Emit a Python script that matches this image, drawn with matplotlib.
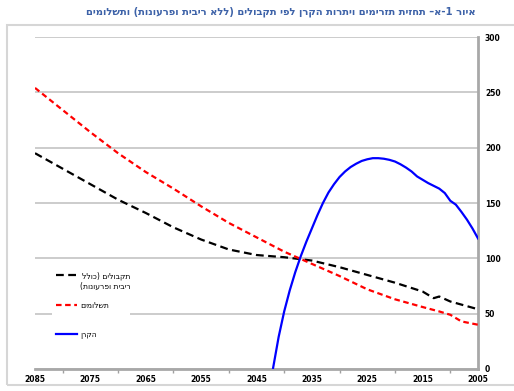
import matplotlib
matplotlib.use("Agg")
import matplotlib.pyplot as plt
from matplotlib.patches import Rectangle
from matplotlib.lines import Line2D


def rtl(s):
    # matplotlib has no bidi support: flip to visual order and mirror brackets
    return s[::-1].translate(str.maketrans("()", ")("))


title = "איור 1-א– תחזית תזרימים ויתרות הקרן לפי תקבולים (ללא ריבית ופרעונות) ותשלומים"
label_receipts = rtl("תקבולים (כולל") + "\n" + rtl("ריבית ופרעונות)")
label_payments = rtl("תשלומים")
label_fund = rtl("הקרן")

# receipts (black dashed)
receipt_years = [2085, 2080, 2075, 2070, 2065, 2060, 2055, 2050, 2045, 2040,
                 2035, 2030, 2025, 2020, 2015, 2013, 2012, 2010, 2005]
receipt_vals = [195, 181, 167, 153, 141, 128, 117, 108, 103, 101,
                98, 92, 85, 78, 70, 64, 65.5, 61, 54]

# payments (red dashed)
payment_years = [2085, 2080, 2075, 2070, 2065, 2060, 2055, 2050, 2045, 2040,
                 2035, 2030, 2025, 2020, 2015, 2012, 2010, 2008, 2005]
payment_vals = [254, 234, 214, 195, 178, 163, 147, 132, 119, 106,
                95, 84, 72, 63, 56, 52, 49, 43, 40]

# fund balance (blue)
fund_years = list(range(2042, 2004, -1))
fund_vals = [1, 29, 52, 71, 87.5, 102, 115, 127, 139, 150, 159.5, 167, 173.5, 178.5,
             182.5, 185.5, 188, 189.5, 190.5, 190.5, 190, 189, 187.5, 185, 182,
             178.5, 174, 171, 168, 165.5, 163, 159, 152, 148.5, 142, 135, 127, 118]

x_ticks = [2085, 2075, 2065, 2055, 2045, 2035, 2025, 2015, 2005]
x_minor = [2080, 2070, 2060, 2050, 2040, 2030, 2020, 2010]
y_ticks = [0, 50, 100, 150, 200, 250, 300]

W, H = 514, 391
fx = lambda px: px / W
fy = lambda py: 1 - py / H

fig = plt.figure(figsize=(5.14, 3.91), dpi=100)
fig.patches.append(Rectangle((0.0136, 0.0153), 1.0, 0.921, transform=fig.transFigure,
                             fill=False, edgecolor="#d6d6d6", linewidth=1.5))
fig.text(fx(281), fy(12), rtl(title), ha="center", va="center", fontsize=7.2,
         fontweight="bold", color="#3d62a8", family="DejaVu Sans")

ax = fig.add_axes([fx(35), 22 / H, 443 / W, 332 / H])
black_style = dict(color="black", lw=1.6, dashes=(3.5, 2))
red_style = dict(color="#ff0000", lw=1.6, dashes=(2.5, 1.6))
blue_style = dict(color="#0000ff", lw=1.6)
ax.plot(receipt_years, receipt_vals, zorder=3, **black_style)
ax.plot(payment_years, payment_vals, zorder=3, **red_style)
ax.plot(fund_years, fund_vals, zorder=3, **blue_style)

ax.set_xlim(2085, 2005)
ax.set_ylim(0, 300)
ax.set_xticks(x_ticks)
ax.set_xticks(x_minor, minor=True)
ax.set_yticks(y_ticks)
ax.yaxis.tick_right()
ax.tick_params(axis="x", which="major", length=0, labelsize=5.5, pad=4)
ax.tick_params(axis="x", which="minor", length=3, color="#a0a0a0", width=1)
ax.tick_params(axis="y", length=0, labelsize=5.5, pad=5)
for lab in ax.get_xticklabels() + ax.get_yticklabels():
    lab.set_fontweight("bold")

ax.grid(axis="y", color="#c4c4c4", lw=1.2)
ax.set_axisbelow(True)
for side in ["left", "top"]:
    ax.spines[side].set_visible(False)
for side in ["right", "bottom"]:
    ax.spines[side].set_color("#a8a8a8")
    ax.spines[side].set_linewidth(2)

# legend block drawn by hand (uneven spacing, handle on first text line)
fig.patches.append(Rectangle((fx(52), fy(342)), fx(130) - fx(52), fy(265) - fy(342),
                             transform=fig.transFigure, facecolor="white",
                             edgecolor="none", zorder=4))
entries = [(label_receipts, black_style, 275), (label_payments, red_style, 305),
           (label_fund, blue_style, 334)]
for label, style, py in entries:
    fig.lines.append(Line2D([fx(56), fx(77)], [fy(py), fy(py)], transform=fig.transFigure,
                            zorder=5, **style))
    fig.text(fx(80), fy(py - 4), label, ha="left", va="top", fontsize=5.5,
             multialignment="right", linespacing=1.25, zorder=5)

fig.savefig("out.png", dpi=100)
